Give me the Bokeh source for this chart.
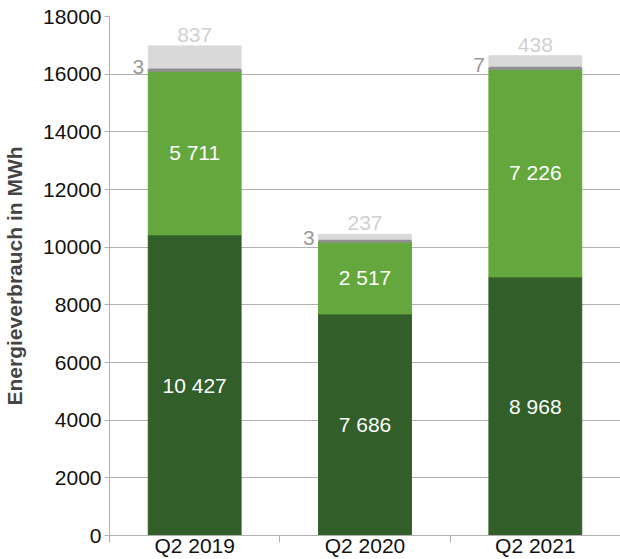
import numpy as np
from bokeh.plotting import figure
from bokeh.models import (ColumnDataSource, FactorRange, Range1d, LinearAxis,
                          FixedTicker, Grid)
from bokeh.transform import dodge
from bokeh.core.properties import value
from bokeh.embed import file_html
from bokeh.resources import INLINE

categories = ["Q2 2019", "Q2 2020", "Q2 2021"]
dark_green = [10427, 7686, 8968]
light_green = [5711, 2517, 7226]
dark_gray = [3, 3, 7]
light_gray = [837, 237, 438]
y_ticks = [0, 2000, 4000, 6000, 8000, 10000, 12000, 14000, 16000, 18000]

FONT = "Liberation Sans"
FS = "21px"

def fmt(v):
    return f"{v:,}".replace(",", " ")

b1 = np.zeros(3)
t1 = b1 + np.array(dark_green)
t2 = t1 + np.array(light_green)
t3 = t2 + np.array(dark_gray)
t4 = t3 + np.array(light_gray)

src = ColumnDataSource(dict(
    cat=categories,
    b1=b1, t1=t1, t2=t2, t3=t3, t4=t4,
    m1=(b1 + t1) / 2, m2=(t1 + t2) / 2,
    l1=[fmt(v) for v in dark_green],
    l2=[fmt(v) for v in light_green],
    l3=[fmt(v) for v in dark_gray],
    l4=[fmt(v) for v in light_gray],
))

p = figure(width=620, height=559, x_range=FactorRange(*categories, range_padding=0),
           y_range=Range1d(0, 18000), output_backend="svg", toolbar_location=None,
           x_axis_type=None, y_axis_type=None,
           min_border_left=108, min_border_right=0, min_border_top=16,
           min_border_bottom=0)
p.outline_line_color = None
p.background_fill_color = "white"

p.add_layout(Grid(dimension=1, ticker=FixedTicker(ticks=y_ticks),
                  grid_line_color="#b0b0b0", level="underlay"))

W = 0.545
p.vbar(x="cat", bottom="b1", top="t1", width=W, source=src,
       fill_color="#315e29", line_color="#315e29", line_width=1)
p.vbar(x="cat", bottom="t1", top="t2", width=W, source=src,
       fill_color="#64a73d", line_color="#64a73d", line_width=1)
p.vbar(x="cat", bottom="t3", top="t4", width=W, source=src,
       fill_color="#d9d9d9", line_color="#d9d9d9", line_width=1)
p.vbar(x="cat", bottom="t2", top="t3", width=W - 0.01, source=src,
       fill_color="#8f8f8f", line_color="#8f8f8f", line_width=3)

txt = dict(text_font=value(FONT), text_font_size=FS, text_align="center",
           text_baseline="middle")
p.text(x="cat", y="m1", text="l1", source=src, text_color="white", **txt)
p.text(x="cat", y="m2", text="l2", source=src, text_color="white", **txt)
p.text(x="cat", y="t4", text="l4", source=src, text_color="#d0d0d0",
       text_font=value(FONT), text_font_size=FS, text_align="center",
       text_baseline="alphabetic", y_offset=-11)
p.text(x=dodge("cat", -W / 2, range=p.x_range), y="t3", text="l3", source=src,
       text_color="#9a9a9a", text_font=value(FONT), text_font_size=FS,
       text_align="right", text_baseline="middle", x_offset=-4, y_offset=-3)

yaxis = LinearAxis(ticker=FixedTicker(ticks=y_ticks),
                   axis_label="Energieverbrauch in MWh")
yaxis.axis_label_text_font = FONT
yaxis.axis_label_text_font_style = "bold"
yaxis.axis_label_text_font_size = "21px"
yaxis.axis_label_standoff = 14
yaxis.major_label_text_font = FONT
yaxis.major_label_text_font_size = FS
yaxis.major_label_text_color = "#111111"
yaxis.axis_line_color = "#b0b0b0"
yaxis.major_tick_line_color = "#b0b0b0"
yaxis.major_tick_out = 5
yaxis.major_tick_in = 0
yaxis.minor_tick_line_color = None
yaxis.major_label_standoff = 3
p.add_layout(yaxis, "left")

xaxis = LinearAxis(ticker=FixedTicker(ticks=[0.5, 1.5, 2.5], minor_ticks=[0, 1, 2, 3]),
                   major_label_overrides={0.5: categories[0], 1.5: categories[1],
                                          2.5: categories[2]})
xaxis.major_label_text_font = FONT
xaxis.major_label_text_font_size = FS
xaxis.major_label_text_color = "#111111"
xaxis.axis_line_color = "#b0b0b0"
xaxis.major_tick_line_color = None
xaxis.major_tick_out = 0
xaxis.major_tick_in = 0
xaxis.minor_tick_line_color = "#b0b0b0"
xaxis.minor_tick_out = 7
xaxis.minor_tick_in = 0
xaxis.major_label_standoff = -9
p.add_layout(xaxis, "below")

open("out.html", "w").write(file_html(p, INLINE))
